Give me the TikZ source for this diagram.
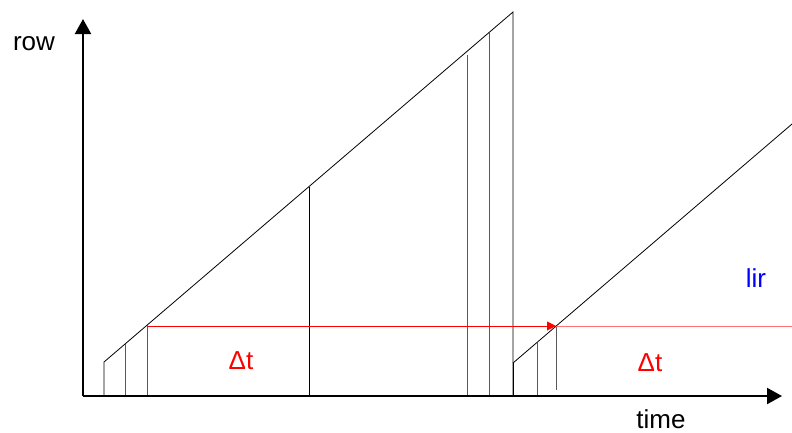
\documentclass[tikz,border=0pt]{standalone}
\usepackage{fontspec}
\setmainfont{Liberation Sans}
\usetikzlibrary{arrows.meta}
\tikzset{
  axisline/.style={line width=2.2pt, -{Triangle[length=15pt,width=16pt]}},
  ramp/.style={line width=0.8pt, black},
  tick/.style={line width=0.9pt, black!65},
  tickdark/.style={line width=0.9pt, black},
  lbl/.style={font=\fontsize{26}{30}\selectfont, inner sep=0pt, anchor=base, text depth=0pt},
}
\begin{document}
\begin{tikzpicture}[x=1pt,y=-1pt]
\useasboundingbox (0,0) rectangle (792,432);
% axes
\coordinate (O) at (83,396);
\coordinate (ytop) at (83,19);
\coordinate (xend) at (782,396);
\draw[axisline] (O) -- (ytop);
\draw[axisline] (O) -- (xend);
% first ramp
\coordinate (r1s) at (104,362);
\coordinate (r1e) at (513,12);
\draw[ramp] (104,395) -- (r1s) -- (r1e) -- (513,395);
\foreach \x/\y in {125/344,147/325,467/55,489/33}{
  \draw[tick] (\x,\y) -- (\x,395);
}
\draw[tickdark] (309,187) -- (309,395);
% second ramp
\coordinate (r2s) at (513,363);
\coordinate (r2e) at (792,124);
\draw[ramp] (r2s) -- (r2e);
\draw[tickdark] (r2s) -- (513,395);
\draw[tick] (537,343) -- (537,395);
\draw[tick] (556,326) -- (556,390);
% red line
\coordinate (ra) at (147,326);
\coordinate (rb) at (556,326);
\coordinate (rc) at (792,326);
\draw[red, line width=0.9pt, -{Triangle[length=9pt,width=9pt]}] (ra) -- (rb);
\draw[red!55, line width=1pt] (rb) -- (rc);
% labels
\node[lbl] (row) at (34,50) {row};
\node[lbl] (time) at (661,428) {time};
\node[lbl, text=red] (dt1) at (241,369) {Δt};
\node[lbl, text=red] (dt2) at (650,371) {Δt};
\node[lbl, text=blue] (lir) at (756,287) {lir};
\end{tikzpicture}
\end{document}
